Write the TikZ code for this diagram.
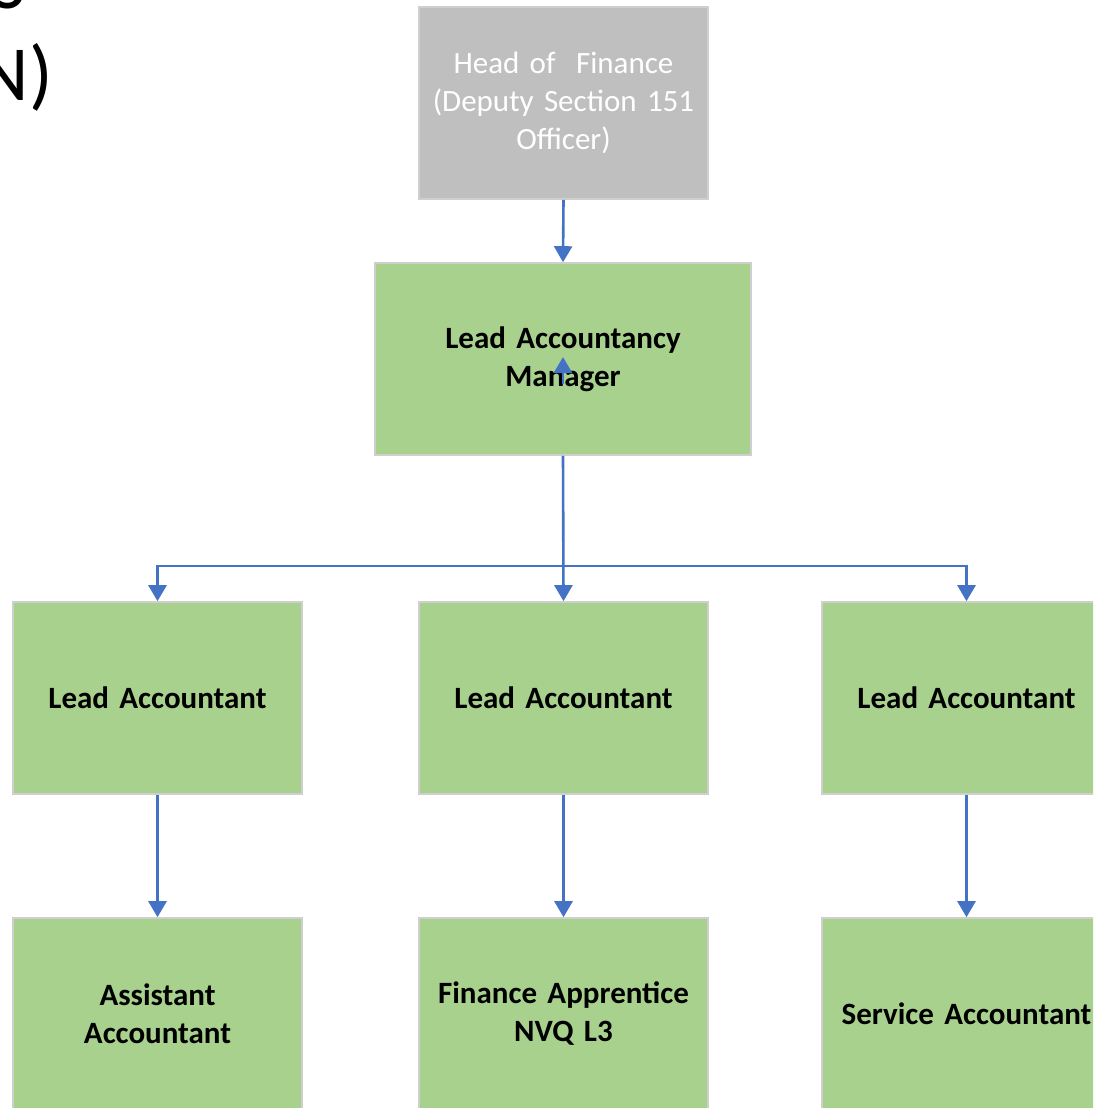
\documentclass[tikz,border=0pt]{standalone}
\usepackage{fontspec}
\setmainfont{Carlito}[WordSpace={0.8,0,0}]
\usetikzlibrary{arrows.meta,calc}
\definecolor{boxgreen}{HTML}{A9D18E}
\definecolor{boxgray}{HTML}{BFBFBF}
\definecolor{edgegray}{HTML}{CFCFCF}
\definecolor{linkblue}{HTML}{4472C4}
\begin{document}
\begin{tikzpicture}[x=1pt,y=-1pt,
  box/.style={draw=edgegray,line width=1.6pt,fill=boxgreen,minimum width=289pt,minimum height=192pt,
    inner sep=0pt,align=center,text width=285pt,font=\fontsize{31}{38}\selectfont\bfseries},
  headbox/.style={box,fill=boxgray,text=white,font=\fontsize{31}{38}\selectfont},
  arr/.style={draw=linkblue,line width=2.6pt,-{Triangle[width=18pt,length=16pt]}},
  big/.style={font=\fontsize{78}{90}\selectfont,inner sep=0pt}]
\useasboundingbox (0,0) rectangle (1093,1108);
\clip (0,0) rectangle (1093,1108);
\node[big,anchor=base east] (tS) at (27,9) {S};
\node[big,anchor=base east] (tN) at (53,100) {N)};
\node[headbox] (head) at (563.5,103) {Head of \ Finance\\(Deputy Section 151\\Officer)};
\node[box,minimum width=376pt,text width=360pt] (mgr) at (563,359) {Lead Accountancy\\Manager};
\node[box] (la1) at (157.5,698) {Lead Accountant};
\node[box] (la2) at (563.5,698) {Lead Accountant};
\node[box] (la3) at (966.5,698) {Lead Accountant};
\node[box] (b1) at (157.5,1014) {Assistant\\Accountant};
\node[box] (b2) at (563.5,1014) {Finance Apprentice\\NVQ L3};
\node[box] (b3) at (966.5,1014) {Service Accountant};
\coordinate (bus) at (563,566);
\coordinate (m1) at (563,384);
\coordinate (m2) at (563,357);
\draw[arr] (head.south) -- (mgr.north);
\draw[arr] (m1) -- (m2);
\draw[arr] (mgr.south) -- (bus) -| (la1.north);
\draw[arr] (mgr.south) -- (bus) -| (la3.north);
\draw[arr] (mgr.south) -- (la2.north);
\draw[arr] (la1.south) -- (b1.north);
\draw[arr] (la2.south) -- (b2.north);
\draw[arr] (la3.south) -- (b3.north);
\end{tikzpicture}
\end{document}
